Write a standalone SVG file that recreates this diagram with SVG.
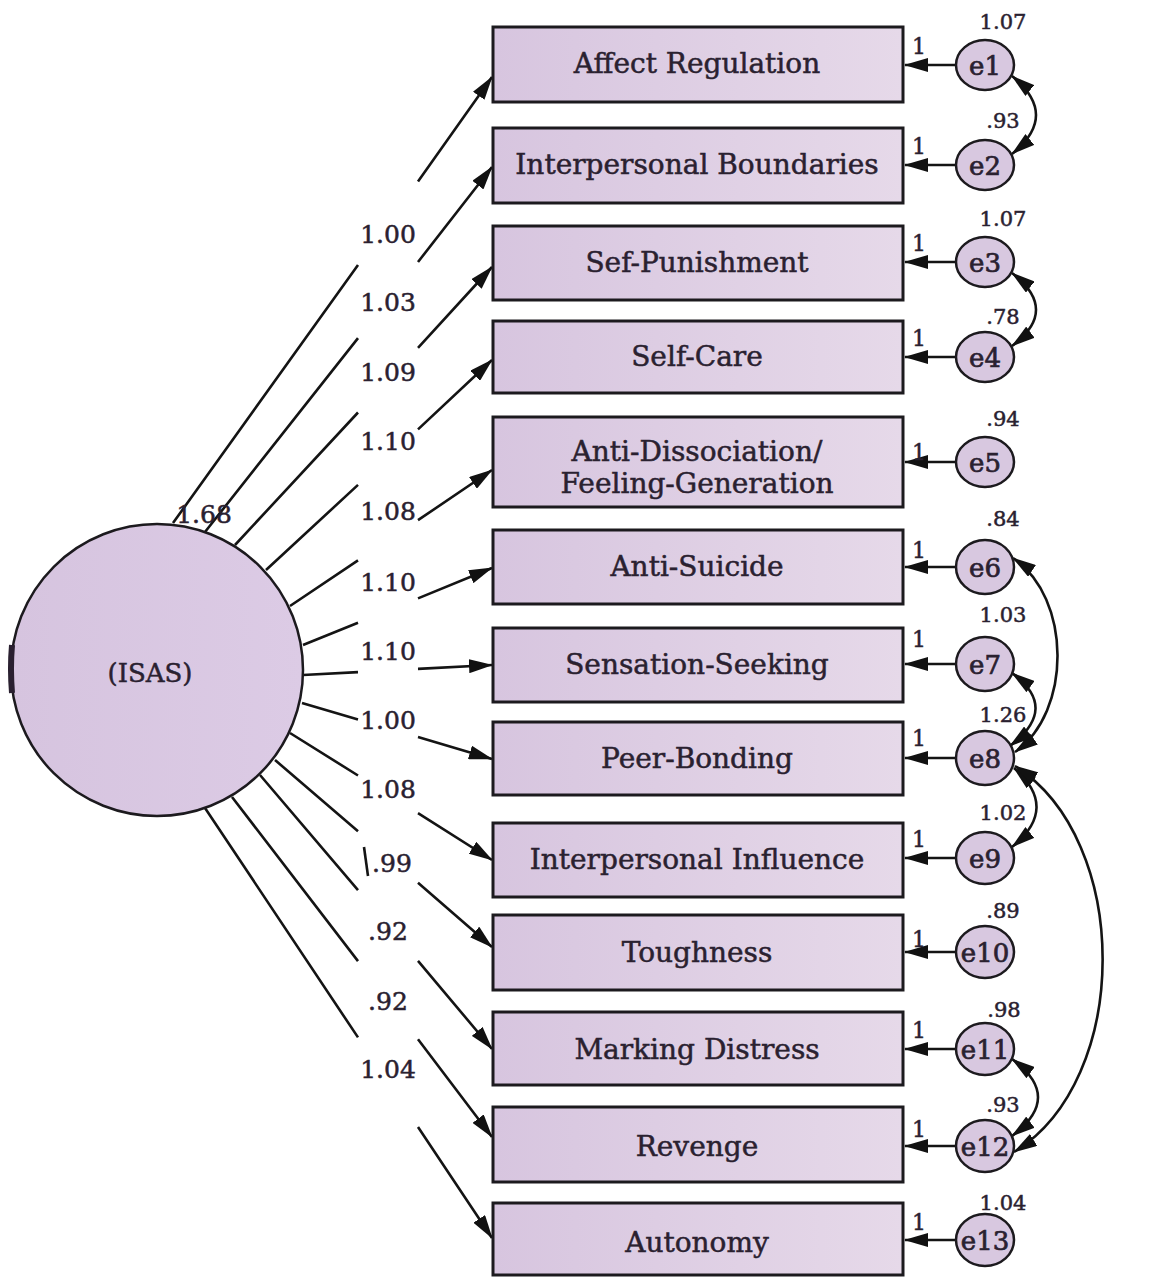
<svg xmlns="http://www.w3.org/2000/svg" width="1166" height="1277" viewBox="0 0 1166 1277">
<style>
.box{fill:url(#boxg);stroke:#1c1a1e;stroke-width:3}
.lat{fill:url(#latg);stroke:#1c1a1e;stroke-width:2.5}
.err{fill:#d8c8e0;stroke:#1c1a1e;stroke-width:2.5}
text{font-family:"DejaVu Serif","Liberation Serif",serif;fill:#2a2130;stroke:#2a2130;stroke-width:0.5;text-anchor:middle}
.t{font-size:28px}
.num{font-size:25px}
.var{font-size:21px}
.one{font-size:22px}
.el{font-size:26px;stroke-width:0.7}
.ln{fill:none;stroke:#141414;stroke-width:2.6}
.ar{marker-end:url(#ah)}
.cv{fill:none;stroke:#141414;stroke-width:2.6;marker-start:url(#ah);marker-end:url(#ah)}
</style>
<defs>
<linearGradient id="boxg" x1="0" y1="0" x2="1" y2="0">
<stop offset="0" stop-color="#d7c5df"/><stop offset="1" stop-color="#e6d9e9"/>
</linearGradient>
<linearGradient id="latg" x1="0" y1="0" x2="1" y2="0">
<stop offset="0" stop-color="#d6c4df"/><stop offset="1" stop-color="#dccbe5"/>
</linearGradient>
<marker id="ah" markerUnits="userSpaceOnUse" viewBox="0 0 24 14" markerWidth="24" markerHeight="14" refX="23" refY="7" orient="auto-start-reverse">
<path d="M0,0 L24,7 L0,14 Z" fill="#111"/>
</marker>
</defs>
<rect width="1166" height="1277" fill="#fff"/>

<g id="connectors">
<path class="ln ar" d="M173,523 L358,265.1 M418,181.5 L492,77"/>
<path class="ln ar" d="M205,532 L358,338.1 M418,262 L492,167"/>
<path class="ln ar" d="M235,545 L358,412.5 M418,347.8 L492,267"/>
<path class="ln ar" d="M266,570 L358,484.9 M418,429.4 L492,360"/>
<path class="ln ar" d="M290,606 L358,560.4 M418,520.2 L492,470"/>
<path class="ln ar" d="M303,645 L358,622.7 M418,598.4 L492,568"/>
<path class="ln ar" d="M303,675 L358,672.1 M418,668.9 L492,665"/>
<path class="ln ar" d="M302,703 L358,719.4 M418,737 L492,759"/>
<path class="ln ar" d="M290,733 L358,775.5 M418,813.1 L492,860"/>
<path class="ln ar" d="M275,760 L358,831.2 M418,882.7 L492,947"/>
<path class="ln ar" d="M260,775 L358,890.2 M418,960.8 L492,1049"/>
<path class="ln ar" d="M232,797 L358,961.1 M418,1039.3 L492,1137"/>
<path class="ln ar" d="M205,808 L358,1037.4 M418,1127 L492,1238"/>
<line class="ln" x1="364" y1="847" x2="368" y2="876" stroke-width="2"/>

<path class="ln ar" d="M956,65 L905,65"/>
<path class="ln ar" d="M956,165 L905,165"/>
<path class="ln ar" d="M956,262 L905,262"/>
<path class="ln ar" d="M956,357 L905,357"/>
<path class="ln ar" d="M956,462 L905,462"/>
<path class="ln ar" d="M956,567 L905,567"/>
<path class="ln ar" d="M956,664 L905,664"/>
<path class="ln ar" d="M956,758 L905,758"/>
<path class="ln ar" d="M956,858 L905,858"/>
<path class="ln ar" d="M956,952 L905,952"/>
<path class="ln ar" d="M956,1049 L905,1049"/>
<path class="ln ar" d="M956,1146 L905,1146"/>
<path class="ln ar" d="M956,1240 L905,1240"/>

<path class="cv" d="M1012,76 Q1060,115 1012,154"/>
<path class="cv" d="M1012,273 Q1060,310 1012,346"/>
<path class="cv" d="M1013,558 C1072,598 1072,712 1015,752"/>
<path class="cv" d="M1012,673 Q1060,708 1010,746"/>
<path class="cv" d="M1014,768 Q1060,808 1012,847"/>
<path class="cv" d="M1015,766 C1132,840 1132,1080 1014,1152"/>
<path class="cv" d="M1012,1059 Q1064,1097 1012,1136"/>
</g>

<g id="ISAS">
<circle class="lat" cx="157" cy="670" r="146"/>
<path d="M12,645 Q10,668 12,693" fill="none" stroke="#2a2030" stroke-width="6"/>
<text class="t" x="150" y="682" style="font-size:26px">(ISAS)</text>
<text class="num" x="204" y="523">1.68</text>
</g>

<g id="loadings">
<text class="num" x="388" y="243">1.00</text>
<text class="num" x="388" y="311">1.03</text>
<text class="num" x="388" y="381">1.09</text>
<text class="num" x="388" y="450">1.10</text>
<text class="num" x="388" y="520">1.08</text>
<text class="num" x="388" y="591">1.10</text>
<text class="num" x="388" y="660">1.10</text>
<text class="num" x="388" y="729">1.00</text>
<text class="num" x="388" y="798">1.08</text>
<text class="num" x="392" y="872">.99</text>
<text class="num" x="388" y="940">.92</text>
<text class="num" x="388" y="1010">.92</text>
<text class="num" x="388" y="1078">1.04</text>
</g>

<g id="n1"><rect class="box" x="493" y="27" width="410" height="75"/><text class="t" x="697" y="73">Affect Regulation</text></g>
<g id="n2"><rect class="box" x="493" y="128" width="410" height="75"/><text class="t" x="697" y="174">Interpersonal Boundaries</text></g>
<g id="n3"><rect class="box" x="493" y="226" width="410" height="74"/><text class="t" x="697" y="272">Sef-Punishment</text></g>
<g id="n4"><rect class="box" x="493" y="321" width="410" height="72"/><text class="t" x="697" y="366">Self-Care</text></g>
<g id="n5"><rect class="box" x="493" y="417" width="410" height="90"/><text class="t" x="697" y="461">Anti-Dissociation/</text><text class="t" x="697" y="493">Feeling-Generation</text></g>
<g id="n6"><rect class="box" x="493" y="530" width="410" height="74"/><text class="t" x="697" y="576">Anti-Suicide</text></g>
<g id="n7"><rect class="box" x="493" y="628" width="410" height="74"/><text class="t" x="697" y="674">Sensation-Seeking</text></g>
<g id="n8"><rect class="box" x="493" y="722" width="410" height="73"/><text class="t" x="697" y="768">Peer-Bonding</text></g>
<g id="n9"><rect class="box" x="493" y="823" width="410" height="74"/><text class="t" x="697" y="869">Interpersonal Influence</text></g>
<g id="n10"><rect class="box" x="493" y="915" width="410" height="75"/><text class="t" x="697" y="962">Toughness</text></g>
<g id="n11"><rect class="box" x="493" y="1012" width="410" height="73"/><text class="t" x="697" y="1059">Marking Distress</text></g>
<g id="n12"><rect class="box" x="493" y="1107" width="410" height="75"/><text class="t" x="697" y="1156">Revenge</text></g>
<g id="n13"><rect class="box" x="493" y="1203" width="410" height="72"/><text class="t" x="697" y="1252">Autonomy</text></g>

<g id="e1"><ellipse class="err" cx="985" cy="65" rx="29" ry="25"/><text class="el" x="985" y="75">e1</text><text class="var" x="1003" y="29">1.07</text><text class="one" x="919" y="54">1</text></g>
<g id="e2"><ellipse class="err" cx="985" cy="165" rx="29" ry="25"/><text class="el" x="985" y="175">e2</text><text class="var" x="1003" y="128">.93</text><text class="one" x="919" y="154">1</text></g>
<g id="e3"><ellipse class="err" cx="985" cy="262" rx="29" ry="25"/><text class="el" x="985" y="272">e3</text><text class="var" x="1003" y="226">1.07</text><text class="one" x="919" y="251">1</text></g>
<g id="e4"><ellipse class="err" cx="985" cy="357" rx="29" ry="25"/><text class="el" x="985" y="367">e4</text><text class="var" x="1003" y="324">.78</text><text class="one" x="919" y="346">1</text></g>
<g id="e5"><ellipse class="err" cx="985" cy="462" rx="29" ry="25"/><text class="el" x="985" y="472">e5</text><text class="var" x="1003" y="426">.94</text><text class="one" x="919" y="460">1</text></g>
<g id="e6"><ellipse class="err" cx="985" cy="567" rx="29" ry="27"/><text class="el" x="985" y="577">e6</text><text class="var" x="1003" y="526">.84</text><text class="one" x="919" y="558">1</text></g>
<g id="e7"><ellipse class="err" cx="985" cy="664" rx="29" ry="27"/><text class="el" x="985" y="674">e7</text><text class="var" x="1003" y="622">1.03</text><text class="one" x="919" y="647">1</text></g>
<g id="e8"><ellipse class="err" cx="985" cy="758" rx="29" ry="27"/><text class="el" x="985" y="768">e8</text><text class="var" x="1003" y="722">1.26</text><text class="one" x="919" y="746">1</text></g>
<g id="e9"><ellipse class="err" cx="985" cy="858" rx="29" ry="26"/><text class="el" x="985" y="868">e9</text><text class="var" x="1003" y="820">1.02</text><text class="one" x="919" y="847">1</text></g>
<g id="e10"><ellipse class="err" cx="985" cy="952" rx="29" ry="26"/><text class="el" x="985" y="962">e10</text><text class="var" x="1003" y="918">.89</text><text class="one" x="919" y="947">1</text></g>
<g id="e11"><ellipse class="err" cx="985" cy="1049" rx="29" ry="26"/><text class="el" x="985" y="1059">e11</text><text class="var" x="1004" y="1017">.98</text><text class="one" x="919" y="1038">1</text></g>
<g id="e12"><ellipse class="err" cx="985" cy="1146" rx="29" ry="26"/><text class="el" x="985" y="1156">e12</text><text class="var" x="1003" y="1112">.93</text><text class="one" x="919" y="1137">1</text></g>
<g id="e13"><ellipse class="err" cx="985" cy="1240" rx="29" ry="26"/><text class="el" x="985" y="1250">e13</text><text class="var" x="1003" y="1210">1.04</text><text class="one" x="919" y="1230">1</text></g>
</svg>
